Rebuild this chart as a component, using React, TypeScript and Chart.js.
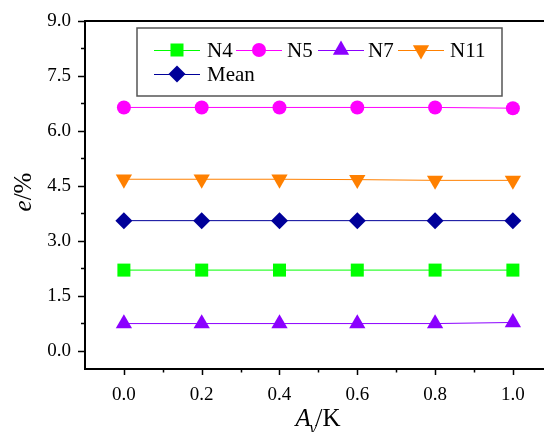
import React, { useEffect, useRef } from 'react';
import { Chart, registerables } from 'chart.js';

Chart.register(...registerables);

const xValues = [0, 0.2, 0.4, 0.6, 0.8, 1.0];
const n4 = [2.2, 2.2, 2.2, 2.2, 2.2, 2.2];
const n5 = [6.64, 6.64, 6.64, 6.64, 6.64, 6.62];
const n7 = [0.74, 0.74, 0.74, 0.74, 0.74, 0.77];
const n11 = [4.68, 4.68, 4.68, 4.67, 4.65, 4.65];
const meanVals = [3.55, 3.55, 3.55, 3.55, 3.55, 3.55];

const seriesLabels = ['N4', 'N5', 'N7', 'N11', 'Mean'];
const seriesValues = [n4, n5, n7, n11, meanVals];
const seriesColors = ['#00FF00', '#FF00FF', '#8B00FF', '#FF8000', '#000099'];
const seriesStyles = ['rect', 'circle', 'triangle', 'triangle', 'rectRot'];
const seriesRotations = [0, 0, 0, 180, 0];
const seriesRadius = [9.2, 7, 9.4, 9.4, 8.5];

const xTicks = [0, 0.2, 0.4, 0.6, 0.8, 1.0];
const xMinor = [0.1, 0.3, 0.5, 0.7, 0.9];
const yTicks = [0, 1.5, 3.0, 4.5, 6.0, 7.5, 9.0];
const yMinor = [0.75, 2.25, 3.75, 5.25, 6.75, 8.25];

const SERIF = '"Liberation Serif", "Times New Roman", serif';

function drawMarker(ctx: CanvasRenderingContext2D, style: string, x: number, y: number, r: number, rotDeg: number) {
  ctx.beginPath();
  if (style === 'rect') {
    const s = r * Math.SQRT1_2;
    ctx.rect(x - s, y - s, 2 * s, 2 * s);
  } else if (style === 'circle') {
    ctx.arc(x, y, r, 0, Math.PI * 2);
  } else if (style === 'triangle') {
    let a = (rotDeg * Math.PI) / 180;
    ctx.moveTo(x + Math.sin(a) * r, y - Math.cos(a) * r);
    a += (2 * Math.PI) / 3;
    ctx.lineTo(x + Math.sin(a) * r, y - Math.cos(a) * r);
    a += (2 * Math.PI) / 3;
    ctx.lineTo(x + Math.sin(a) * r, y - Math.cos(a) * r);
    ctx.closePath();
  } else if (style === 'rectRot') {
    ctx.moveTo(x - r, y);
    ctx.lineTo(x, y - r);
    ctx.lineTo(x + r, y);
    ctx.lineTo(x, y + r);
    ctx.closePath();
  }
  ctx.fill();
}

const framePlugin = {
  id: 'frame',
  afterDraw(chart: any) {
    const { ctx, chartArea, scales } = chart;
    const { left, top, right, bottom } = chartArea;
    const xs = scales.x;
    const ys = scales.y;
    ctx.save();
    ctx.strokeStyle = '#000';
    ctx.lineWidth = 2;
    ctx.beginPath();
    ctx.moveTo(right + 2, top);
    ctx.lineTo(left, top);
    ctx.lineTo(left, bottom);
    ctx.lineTo(right + 2, bottom);
    ctx.stroke();

    ctx.lineWidth = 1.5;
    ctx.beginPath();
    xTicks.forEach((v) => {
      const p = Math.round(xs.getPixelForValue(v)) + 0.5;
      ctx.moveTo(p, bottom);
      ctx.lineTo(p, bottom + 6);
    });
    xMinor.forEach((v) => {
      const p = Math.round(xs.getPixelForValue(v)) + 0.5;
      ctx.moveTo(p, bottom);
      ctx.lineTo(p, bottom + 3.5);
    });
    yTicks.forEach((v) => {
      const p = Math.round(ys.getPixelForValue(v)) + 0.5;
      ctx.moveTo(left, p);
      ctx.lineTo(left - 7, p);
    });
    yMinor.forEach((v) => {
      const p = Math.round(ys.getPixelForValue(v)) + 0.5;
      ctx.moveTo(left, p);
      ctx.lineTo(left - 4, p);
    });
    ctx.stroke();

    // Legend
    const bx = 137, by = 28, bw = 365, bh = 68;
    ctx.fillStyle = '#fff';
    ctx.fillRect(bx, by, bw, bh);
    ctx.strokeStyle = '#555';
    ctx.lineWidth = 1.5;
    ctx.strokeRect(bx, by, bw, bh);
    const items = [
      { lineX: 154, textX: 207, y: 50 },
      { lineX: 236, textX: 287, y: 50 },
      { lineX: 318, textX: 368, y: 50 },
      { lineX: 398, textX: 450, y: 50 },
      { lineX: 154, textX: 207, y: 74 },
    ];
    ctx.font = `21px ${SERIF}`;
    ctx.textBaseline = 'middle';
    ctx.textAlign = 'left';
    items.forEach((it, i) => {
      ctx.strokeStyle = seriesColors[i];
      ctx.lineWidth = 1;
      ctx.beginPath();
      ctx.moveTo(it.lineX, it.y + 0.5);
      ctx.lineTo(it.lineX + 46, it.y + 0.5);
      ctx.stroke();
      ctx.fillStyle = seriesColors[i];
      drawMarker(ctx, seriesStyles[i], it.lineX + 23, it.y, seriesRadius[i], seriesRotations[i]);
      ctx.fillStyle = '#000';
      ctx.fillText(seriesLabels[i], it.textX, it.y + 1);
    });

    // X title: A_γ/K
    ctx.fillStyle = '#000';
    ctx.textBaseline = 'alphabetic';
    const big = 25;
    const fA = `italic ${big}px ${SERIF}`;
    const fSub = `italic 17px ${SERIF}`;
    const fN = `${big}px ${SERIF}`;
    ctx.font = fA;
    const wA = ctx.measureText('A').width;
    ctx.font = fSub;
    const wG = ctx.measureText('γ').width;
    ctx.font = fN;
    const wK = ctx.measureText('/K').width;
    const total = wA + wG + wK - 2;
    let sx = 318 - total / 2;
    const base = 426;
    ctx.font = fA;
    ctx.fillText('A', sx, base);
    sx += wA;
    ctx.font = fSub;
    ctx.fillText('γ', sx - 1, base + 7);
    sx += wG - 2;
    ctx.font = fN;
    ctx.fillText('/K', sx, base);

    // Y title: e/%
    ctx.translate(31, 192);
    ctx.rotate(-Math.PI / 2);
    ctx.font = fA;
    const we = ctx.measureText('e').width;
    ctx.font = fN;
    const wp = ctx.measureText('/%').width;
    let ty = -(we + wp) / 2;
    ctx.font = fA;
    ctx.fillText('e', ty, 0);
    ty += we;
    ctx.font = fN;
    ctx.fillText('/%', ty, 0);
    ctx.restore();
  },
};

export default function App() {
  const ref = useRef<HTMLCanvasElement | null>(null);
  useEffect(() => {
    if (!ref.current) return;
    const datasets = seriesLabels.map((label, i) => ({
      label,
      data: xValues.map((x, j) => ({ x, y: seriesValues[i][j] })),
      borderColor: seriesColors[i],
      backgroundColor: seriesColors[i],
      borderWidth: 1,
      pointStyle: seriesStyles[i],
      pointRotation: seriesRotations[i],
      pointRadius: seriesRadius[i],
      pointBorderWidth: 0,
      pointBackgroundColor: seriesColors[i],
      showLine: true,
      tension: 0,
      fill: false,
    }));
    const chart = new Chart(ref.current, {
      type: 'line',
      data: { datasets } as any,
      options: {
        responsive: false,
        animation: false,
        maintainAspectRatio: false,
        layout: { autoPadding: false, padding: { top: 21, right: 0, left: 0, bottom: 0 } },
        plugins: { legend: { display: false }, tooltip: { enabled: false }, title: { display: false } },
        scales: {
          x: {
            type: 'linear',
            min: -0.1,
            max: 1.08,
            afterBuildTicks: (s: any) => {
              s.ticks = xTicks.map((v) => ({ value: v }));
            },
            afterFit: (s: any) => {
              s.height = 63;
              s.paddingLeft = 0;
              s.paddingRight = 0;
            },
            ticks: {
              callback: (v: any) => Number(v).toFixed(1),
              font: { family: SERIF, size: 19 },
              color: '#000',
              padding: 9,
              maxRotation: 0,
              autoSkip: false,
            },
            grid: { drawOnChartArea: false, tickLength: 6, color: 'transparent' },
            border: { display: false },
          },
          y: {
            type: 'linear',
            min: -0.5,
            max: 9,
            afterBuildTicks: (s: any) => {
              s.ticks = yTicks.map((v) => ({ value: v }));
            },
            afterFit: (s: any) => {
              s.width = 85;
              s.paddingTop = 0;
              s.paddingBottom = 0;
            },
            ticks: {
              callback: (v: any) => Number(v).toFixed(1),
              font: { family: SERIF, size: 19 },
              color: '#000',
              padding: 7,
              autoSkip: false,
            },
            grid: { drawOnChartArea: false, tickLength: 7, color: 'transparent' },
            border: { display: false },
          },
        },
      } as any,
      plugins: [framePlugin],
    });
    return () => chart.destroy();
  }, []);
  return (
    <div style={{ position: 'fixed', left: 0, top: 0, width: 544, height: 432, background: '#fff' }}>
      <canvas ref={ref} width={544} height={432} style={{ width: 544, height: 432, display: 'block' }} />
    </div>
  );
}
